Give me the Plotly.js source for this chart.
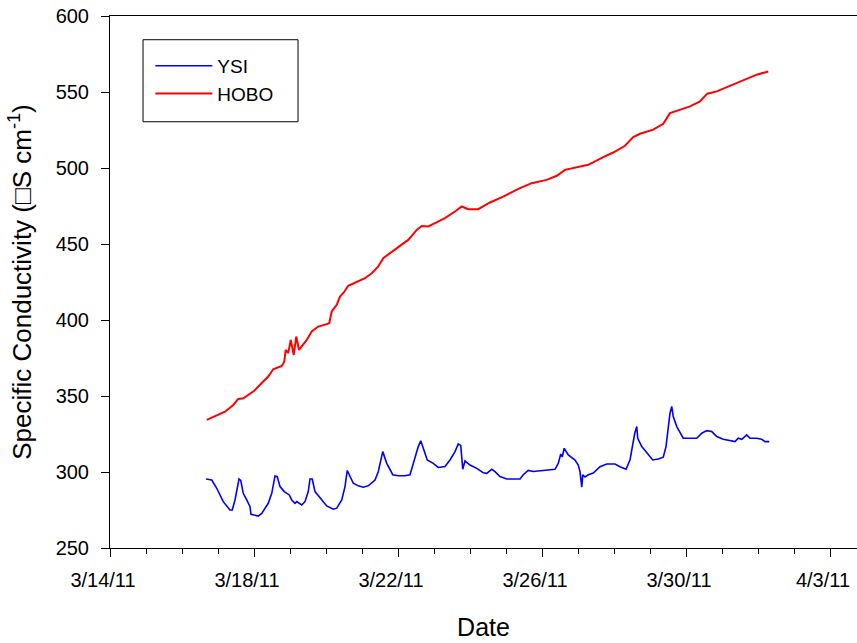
<!DOCTYPE html>
<html>
<head>
<meta charset="utf-8">
<script src="https://cdn.plot.ly/plotly-3.0.1.min.js"></script>
<style>
  html, body { margin: 0; padding: 0; background: #ffffff; }
  #chart { width: 857px; height: 643px; }
</style>
</head>
<body>
<div id="chart"></div>
<script>
// ---- Data ----
var ysiTimes = [
  "2011-03-16 16:00","2011-03-16 19:50","2011-03-16 23:10","2011-03-17 03:30","2011-03-17 08:00",
  "2011-03-17 09:30","2011-03-17 11:20","2011-03-17 14:00","2011-03-17 15:10","2011-03-17 16:50",
  "2011-03-17 19:10","2011-03-17 21:20","2011-03-17 22:00","2011-03-18 00:40","2011-03-18 02:50",
  "2011-03-18 05:10","2011-03-18 09:30","2011-03-18 11:50","2011-03-18 14:00","2011-03-18 15:30",
  "2011-03-18 17:20","2011-03-18 20:10","2011-03-18 21:50","2011-03-18 23:30","2011-03-19 01:10",
  "2011-03-19 03:20","2011-03-19 04:30","2011-03-19 07:50","2011-03-19 10:00","2011-03-19 12:10",
  "2011-03-19 13:20","2011-03-19 14:50","2011-03-19 16:40","2011-03-19 20:00","2011-03-20 00:30",
  "2011-03-20 04:50","2011-03-20 07:10","2011-03-20 10:30","2011-03-20 12:40","2011-03-20 14:10",
  "2011-03-20 15:30","2011-03-20 18:10","2011-03-20 21:30","2011-03-21 00:50","2011-03-21 04:10",
  "2011-03-21 08:40","2011-03-21 10:50","2011-03-21 13:50","2011-03-21 16:30","2011-03-21 20:30",
  "2011-03-22 00:10","2011-03-22 04:40","2011-03-22 08:00","2011-03-22 10:10","2011-03-22 12:30",
  "2011-03-22 13:30","2011-03-22 15:10","2011-03-22 16:50","2011-03-22 19:30","2011-03-22 23:30",
  "2011-03-23 02:50","2011-03-23 07:20","2011-03-23 10:40","2011-03-23 14:00","2011-03-23 16:10",
  "2011-03-23 17:50","2011-03-23 18:30","2011-03-23 19:10","2011-03-23 20:40","2011-03-24 00:00",
  "2011-03-24 04:30","2011-03-24 08:50","2011-03-24 11:10","2011-03-24 14:30","2011-03-24 16:40",
  "2011-03-24 20:00","2011-03-25 00:30","2011-03-25 08:10","2011-03-25 09:20","2011-03-25 11:30",
  "2011-03-25 14:50","2011-03-25 18:10","2011-03-26 00:50","2011-03-26 08:40","2011-03-26 10:50",
  "2011-03-26 12:30","2011-03-26 13:30","2011-03-26 14:50","2011-03-26 17:30","2011-03-26 22:00",
  "2011-03-27 00:10","2011-03-27 01:20","2011-03-27 02:30","2011-03-27 03:10","2011-03-27 04:40",
  "2011-03-27 06:50","2011-03-27 10:10","2011-03-27 14:40","2011-03-27 19:10","2011-03-27 22:30",
  "2011-03-28 00:40","2011-03-28 04:00","2011-03-28 08:00","2011-03-28 10:40","2011-03-28 12:30",
  "2011-03-28 13:50","2011-03-28 15:10","2011-03-28 15:50","2011-03-28 18:30","2011-03-28 21:50",
  "2011-03-29 01:50","2011-03-29 05:30","2011-03-29 08:50","2011-03-29 10:40","2011-03-29 12:10",
  "2011-03-29 13:20","2011-03-29 14:30","2011-03-29 15:30","2011-03-29 17:50","2011-03-29 20:00",
  "2011-03-29 22:10","2011-03-30 02:40","2011-03-30 07:10","2011-03-30 10:30","2011-03-30 13:50",
  "2011-03-30 17:10","2011-03-30 20:30","2011-03-31 00:50","2011-03-31 05:20","2011-03-31 08:40",
  "2011-03-31 10:50","2011-03-31 13:10","2011-03-31 16:30","2011-03-31 18:40","2011-03-31 23:10",
  "2011-04-01 02:30","2011-04-01 04:40","2011-04-01 07:30"
];
var ysiValues = [
  295.4,294.7,289.3,280.5,275.0,
  275.0,281.6,295.4,294.5,286.0,
  281.6,277.2,272.2,271.7,271.0,
  272.8,279.4,286.0,297.4,296.9,
  290.4,287.1,286.0,284.9,281.6,
  279.4,280.5,278.3,280.5,287.1,
  295.4,295.4,287.1,282.8,277.7,
  275.5,276.2,281.6,290.4,301.0,
  298.2,292.7,290.9,290.0,290.9,
  294.7,300.2,313.4,305.7,298.2,
  297.5,297.5,298.2,305.7,314.5,
  316.7,320.5,315.6,307.9,305.7,
  303.0,303.6,307.9,313.4,318.5,
  317.5,309.0,301.8,307.3,304.6,
  302.4,299.5,299.1,301.8,300.2,
  297.0,295.4,295.4,295.4,298.2,
  301.0,300.3,301.0,301.8,305.7,
  311.8,310.0,315.6,311.2,307.9,
  304.6,300.2,290.0,298.2,296.7,
  298.2,299.3,303.5,305.3,305.3,
  305.3,303.5,301.8,307.9,320.0,
  325.5,329.9,322.2,316.7,312.4,
  307.9,308.5,309.7,316.7,327.8,
  338.7,343.1,336.5,329.9,325.5,
  322.2,322.2,322.2,325.5,327.2,
  326.6,323.3,321.5,320.4,320.0,
  322.2,321.5,324.4,322.2,322.2,
  321.5,320.0,320.0
];

var hoboTimes = [
  "2011-03-16 16:30","2011-03-17 00:10","2011-03-17 04:40","2011-03-17 10:10","2011-03-17 13:30",
  "2011-03-17 16:50","2011-03-17 23:30","2011-03-18 06:10","2011-03-18 09:30","2011-03-18 12:50",
  "2011-03-18 18:30","2011-03-18 20:10","2011-03-18 21:10","2011-03-18 22:50","2011-03-19 00:30",
  "2011-03-19 02:30","2011-03-19 04:10","2011-03-19 06:00","2011-03-19 07:50","2011-03-19 11:10",
  "2011-03-19 14:30","2011-03-19 18:50","2011-03-20 00:30","2011-03-20 02:10","2011-03-20 03:50",
  "2011-03-20 07:10","2011-03-20 09:20","2011-03-20 12:00","2011-03-20 14:50","2011-03-20 19:20",
  "2011-03-21 02:00","2011-03-21 06:30","2011-03-21 10:50","2011-03-21 14:10","2011-03-21 19:50",
  "2011-03-22 01:20","2011-03-22 06:50","2011-03-22 12:30","2011-03-22 15:50","2011-03-22 20:10",
  "2011-03-23 00:40","2011-03-23 07:20","2011-03-23 14:00","2011-03-23 18:30","2011-03-23 22:50",
  "2011-03-24 05:30","2011-03-24 13:20","2011-03-24 22:10","2011-03-25 09:20","2011-03-25 17:10",
  "2011-03-26 03:10","2011-03-26 09:50","2011-03-26 15:20","2011-03-26 23:10","2011-03-27 06:50",
  "2011-03-27 16:50","2011-03-27 23:30","2011-03-28 07:20","2011-03-28 12:50","2011-03-28 17:20",
  "2011-03-29 02:10","2011-03-29 08:50","2011-03-29 13:20","2011-03-29 18:50","2011-03-30 02:40",
  "2011-03-30 09:20","2011-03-30 14:10","2011-03-30 20:30","2011-03-31 05:20","2011-03-31 14:10",
  "2011-03-31 23:10","2011-04-01 06:50"
];
var hoboValues = [
  334.3,337.5,339.7,344.1,348.1,
  348.5,352.9,359.5,362.8,367.6,
  369.8,372.6,380.3,378.2,386.9,
  377.0,389.1,380.3,382.5,386.9,
  392.4,395.7,397.3,397.9,405.6,
  410.0,415.4,418.3,422.5,424.6,
  427.5,430.8,435.2,440.7,445.0,
  448.8,452.7,459.3,461.9,461.5,
  463.7,467.0,471.4,474.7,472.9,
  472.9,477.3,481.2,486.8,490.0,
  492.2,494.9,498.8,500.6,502.1,
  507.2,510.2,514.6,520.3,522.5,
  525.2,529.1,536.1,537.9,540.5,
  543.8,548.9,550.4,554.1,558.1,
  561.4,563.5
];

var seriesNames = ["YSI", "HOBO"];
var xRange = ["2011-03-14 00:00", "2011-04-03 18:00"];
var yRange = [250, 600];

var FONT = "Liberation Sans, Arial, Helvetica, sans-serif";

var traces = [
  {
    x: ysiTimes, y: ysiValues, name: seriesNames[0], type: "scatter", mode: "lines",
    line: { color: "#0000ff", width: 1.6 }
  },
  {
    x: hoboTimes, y: hoboValues, name: seriesNames[1], type: "scatter", mode: "lines",
    line: { color: "#ff0000", width: 2 }
  }
];

var layout = {
  width: 857, height: 643,
  margin: { l: 110, r: 0, t: 16, b: 95, pad: 0 },
  paper_bgcolor: "#ffffff", plot_bgcolor: "#ffffff",
  font: { family: FONT, color: "#000000", size: 20 },
  showlegend: true,
  legend: {
    x: 0.054, y: 0.942, xanchor: "left", yanchor: "top",
    bgcolor: "rgba(0,0,0,0)", borderwidth: 0,
    font: { family: FONT, size: 19, color: "#000000" },
    itemwidth: 57, tracegroupgap: 0
  },
  shapes: [
    { type: "rect", xref: "paper", yref: "paper",
      x0: 0.0442, x1: 0.2517, y0: 0.8012, y1: 0.9554,
      line: { color: "#000000", width: 1 }, fillcolor: "rgba(0,0,0,0)" }
  ],
  xaxis: {
    type: "date", range: xRange, autorange: false,
    tick0: "2011-03-14", dtick: 4 * 86400000, tickformat: "%-m/%-d/%y",
    ticks: "outside", ticklen: 8, tickwidth: 1, tickcolor: "#000000",
    showline: true, linecolor: "#000000", linewidth: 1, mirror: true,
    showgrid: false, zeroline: false,
    minor: { dtick: 86400000, tick0: "2011-03-14", ticks: "outside", ticklen: 5, tickwidth: 1, tickcolor: "#000000", showgrid: false },
    tickfont: { family: FONT, size: 20, color: "#000000" },
    ticklabelstandoff: 6,
    ticklabelshift: -7,
    ticklabeloverflow: "allow",
    title: { text: "Date", font: { family: FONT, size: 25, color: "#000000" }, standoff: 28 }
  },
  yaxis: {
    range: yRange, autorange: false, dtick: 50, tick0: 250,
    ticks: "outside", ticklen: 8, tickwidth: 1, tickcolor: "#000000",
    showline: true, linecolor: "#000000", linewidth: 1, mirror: false,
    showgrid: false, zeroline: false,
    tickfont: { family: FONT, size: 20, color: "#000000" },
    ticklabelstandoff: 8,
    title: { text: "Specific Conductivity (\u25A1S cm<sup>-1</sup>)", font: { family: FONT, size: 26, color: "#000000" }, standoff: 16 }
  }
};

Plotly.newPlot("chart", traces, layout, { displayModeBar: false, staticPlot: true });
</script>
</body>
</html>
